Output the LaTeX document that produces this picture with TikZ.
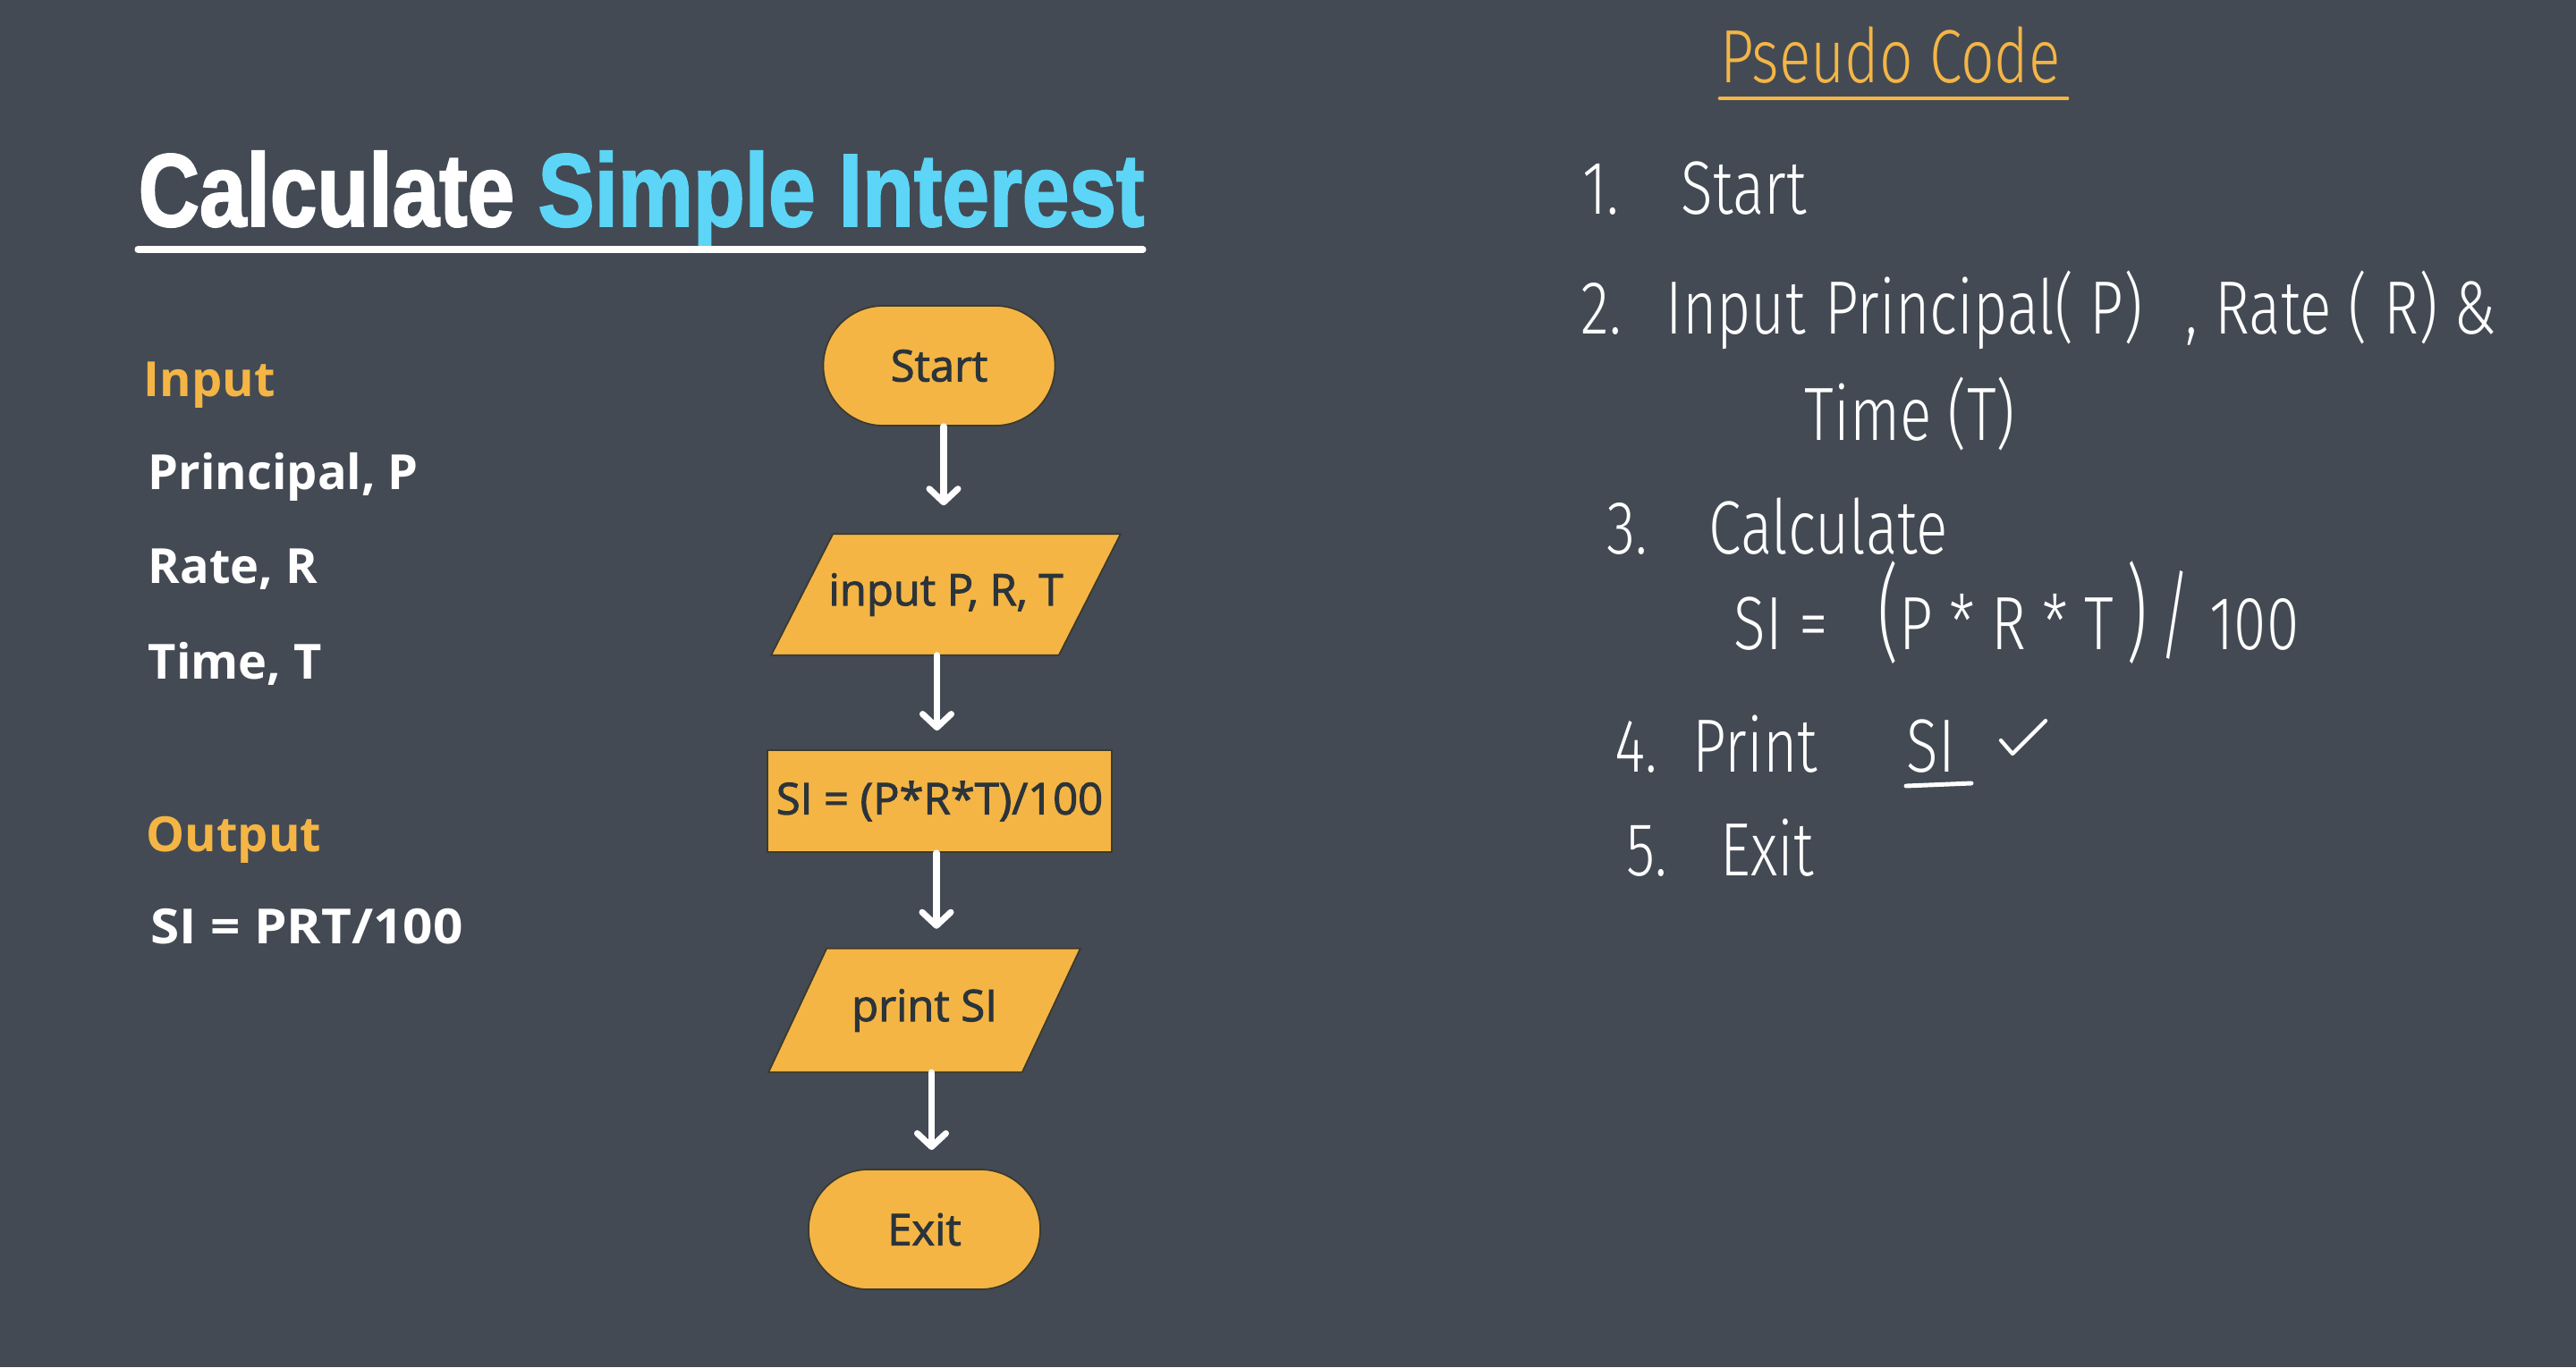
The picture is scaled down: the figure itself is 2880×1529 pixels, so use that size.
\documentclass[tikz,border=0pt]{standalone}
\usepackage{fontspec}
\usetikzlibrary{arrows.meta,calc,backgrounds}
\setmainfont{Open Sans}
\newfontfamily\titlefont[FakeStretch=0.815, FakeBold=1.6]{Liberation Sans Bold}
\newfontfamily\labelfont{Open Sans}
\newfontfamily\boxfont[FakeBold=2]{Open Sans}
\IfFontExistsTF{Fira Sans Light}
  {\newfontfamily\handfont[FakeStretch=0.78]{Fira Sans Light}}
  {\newfontfamily\handfont[FakeStretch=0.78]{Fira Sans}}

\definecolor{slate}{HTML}{434A54}
\definecolor{amber}{HTML}{F4B545}
\definecolor{sky}{HTML}{5CD5F6}
\definecolor{ink}{HTML}{2B343A}
\definecolor{rim}{HTML}{3B3A2E}

\tikzset{
  heading/.style={anchor=base west, inner sep=0pt,
    font=\titlefont\fontsize{33}{33}\selectfont},
  sidelabel/.style={anchor=base west, inner sep=0pt, text=white,
    font=\labelfont\bfseries\fontsize{15.4}{15.4}\selectfont},
  sidehead/.style={sidelabel, text=amber},
  boxtext/.style={font=\boxfont\fontsize{13.9}{13.9}\selectfont, text=ink, inner sep=0pt},
  term/.style={boxtext, rectangle, rounded corners=0.67cm, fill=amber, draw=rim,
    line width=0.5pt, minimum width=2.59cm, minimum height=1.34cm},
  proc/.style={boxtext, rectangle, fill=amber, draw=rim, line width=0.5pt,
    minimum width=3.85cm, minimum height=1.14cm},
  io/.style={boxtext, rectangle, draw=none},
  ioshape/.style={fill=amber, draw=rim, line width=0.5pt},
  flow/.style={draw=white, line width=2pt, line cap=round,
    -{Straight Barb[length=0.15cm, width=0.32cm, line cap=round, line join=round]}},
  hand/.style={anchor=base west, inner sep=0pt, text=white,
    font=\handfont\fontsize{24}{24}\selectfont},
}

\begin{document}
\begin{tikzpicture}[x=0.01cm, y=-0.01cm]
  \useasboundingbox (0,0) rectangle (2880,1529);

  % ---- title and input/output summary ----
  \node[heading] (title) at (154,253)
    {\textcolor{white}{Calculate} \textcolor{sky}{Simple Interest}};
  \draw[white, line width=2pt, line cap=round] (154,279) -- (1278,279);

  \node[sidehead]  (inhead)  at (160,443)  {Input};
  \node[sidelabel] (princ)   at (165,547)  {Principal, P};
  \node[sidelabel] (rate)    at (165,652)  {Rate, R};
  \node[sidelabel] (time)    at (165,759)  {Time, T};
  \node[sidehead]  (outhead) at (163,952)  {Output};
  \node[sidelabel] (formula) at (168,1055) {\scalebox{1.08}[1]{SI = PRT/100}};

  % ---- flowchart ----
  \node[term] (start) at (1050,409)    {Start};
  \node[io, minimum width=3.89cm, minimum height=1.34cm] (in)  at (1057.5,665) {input P, R, T};
  \node[proc] (calc) at (1050.5,896)   {SI = (P*R*T)/100};
  \node[io, minimum width=3.47cm, minimum height=1.37cm] (out) at (1033.5,1130) {print SI};
  \node[term] (exit) at (1033.5,1375)  {Exit};

  \begin{scope}[on background layer]
    \fill[slate] (0,0) rectangle (2880,1529);
    \path[ioshape] ($(in.north west)+(69,0)$) -- (in.north east)
      -- ($(in.south east)-(69,0)$) -- (in.south west) -- cycle;
    \path[ioshape] ($(out.north west)+(65,0)$) -- (out.north east)
      -- ($(out.south east)-(65,0)$) -- (out.south west) -- cycle;
  \end{scope}

  \coordinate (a1) at ([xshift=0.05cm]start.south);
  \coordinate (a2) at ([xshift=-0.1cm]in.south);
  \coordinate (a3) at ([xshift=-0.035cm]calc.south);
  \coordinate (a4) at ([xshift=0.08cm]out.south);
  \draw[flow, shorten >=0.32cm] (a1) -- (a1 |- in.north);
  \draw[flow, shorten >=0.21cm] (a2) -- (a2 |- calc.north);
  \draw[flow, shorten >=0.22cm] (a3) -- (a3 |- out.north);
  \draw[flow, shorten >=0.21cm] (a4) -- (a4 |- exit.north);

  % ---- pseudo code ----
  \node[hand, text=amber] (pc) at (1923,92) {Pseudo Code};
  \draw[amber, line width=1.4pt, line cap=round] (1923,110) -- (2311,110);

  \node[hand] (n1) at (1769,239) {1.};
  \node[hand] (s1) at (1879,239) {Start};

  \node[hand] (n2)  at (1767,373) {2.};
  \node[hand] (s2a) at (1862,373) {Input};
  \node[hand] (s2b) at (2040,373) {Principal( P)};
  \node[hand] (s2c) at (2443,373) {,};
  \node[hand] (s2d) at (2476,373) {Rate ( R) \&};
  \node[hand] (s2e) at (2017,492) {Time (T)};

  \node[hand] (n3)  at (1796,619) {3.};
  \node[hand] (s3a) at (1910,619) {Calculate};
  \node[hand] (s3b) at (1938,726) {SI =};
  \node[hand] (s3c) at (2099,726)
    {\scalebox{1.1}[1.4]{(}P * R * T\,\scalebox{1.1}[1.4]{)}\,\scalebox{1}[1.3]{/}};
  \node[hand] (s3d) at (2470,726) {100};

  \node[hand] (n4)  at (1805,863) {4.};
  \node[hand] (s4a) at (1892,863) {Print};
  \node[hand] (s4b) at (2131,863) {SI};
  \draw[white, line width=1.4pt, line cap=round] (2131,879) -- (2204,876);
  \draw[white, line width=1.2pt, line cap=round, line join=round]
    (2237,828) -- (2250,843) -- (2287,806);

  \node[hand] (n5)  at (1818,979) {5.};
  \node[hand] (s5a) at (1923,979) {Exit};
\end{tikzpicture}
\end{document}
